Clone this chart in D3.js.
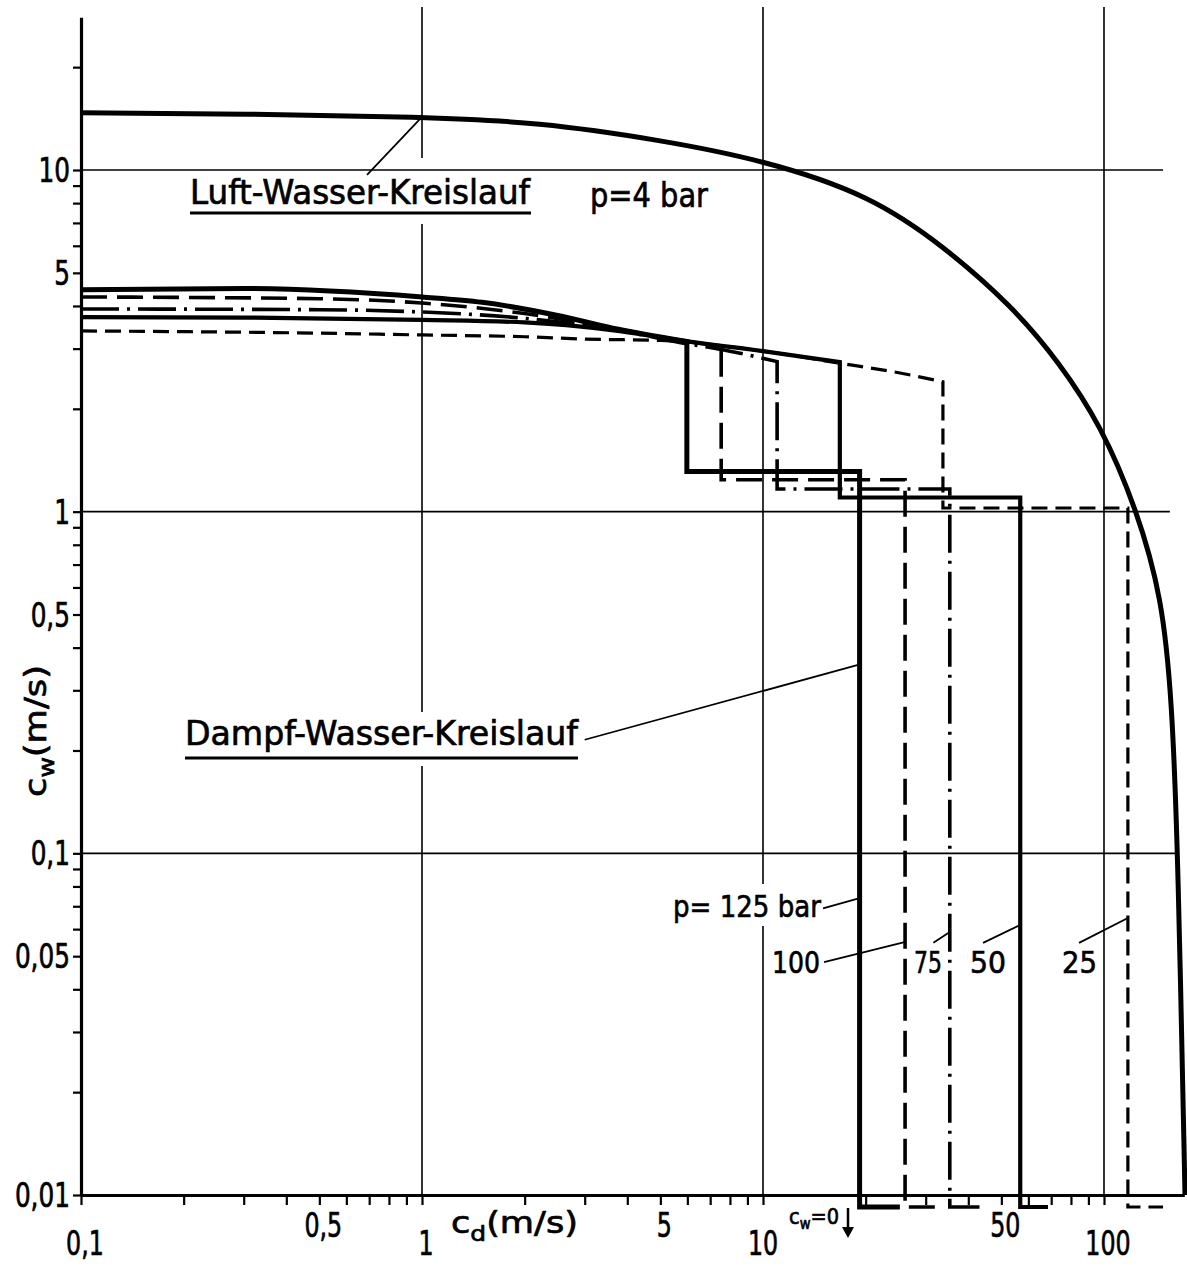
<!DOCTYPE html>
<html><head><meta charset="utf-8">
<script src="https://cdn.jsdelivr.net/npm/d3@7"></script>
<style>
body{margin:0;background:#fff}
svg{display:block}
text{font-family:"DejaVu Sans",sans-serif;fill:#000;stroke:#000;stroke-width:0.7px}
</style>
</head><body>
<svg id="c" width="1187" height="1267"></svg>
<script>
// ---------------- DATA ----------------
// Luft-Wasser-Kreislauf, p = 4 bar
const luftX = [0.1, 0.3, 1, 2.2, 5, 10, 20.6, 33.9, 54.1, 73.8, 98, 125, 148, 158.2, 164.8, 172.8];
const luftY = [14.7, 14.6, 14.3, 13.8, 12.24, 10.7, 8.45, 5.99, 3.97, 2.74, 1.79, 1.01, 0.559, 0.281, 0.1, 0.01];

// Dampf-Wasser-Kreislauf, upper branches
const pressures = [125, 100, 75, 50, 25];
const p125X = [0.1, 0.3, 1, 1.5, 2.5, 3.6, 5.98];
const p125Y = [4.46, 4.5, 4.25, 4.1, 3.75, 3.45, 3.15];
const p100X = [0.1, 0.5, 1, 2, 3.6, 6, 7.54];
const p100Y = [4.25, 4.2, 4.08, 3.8, 3.45, 3.15, 3.05];
const p75X  = [0.1, 0.5, 1, 2, 3.6, 6, 8, 11];
const p75Y  = [3.92, 3.9, 3.84, 3.68, 3.42, 3.1, 2.95, 2.75];
const p50X  = [0.1, 0.3, 1, 2, 3.6, 6, 10, 16.8];
const p50Y  = [3.71, 3.7, 3.64, 3.58, 3.4, 3.15, 2.95, 2.74];
const p25X  = [0.1, 0.5, 1, 2, 3, 5, 10, 16.8, 25, 33.7];
const p25Y  = [3.38, 3.33, 3.29, 3.25, 3.2, 3.17, 2.95, 2.72, 2.55, 2.40];
// level after the drop, c_d where c_w falls to 0, end of the c_w = 0 stub
const dropLevel = [1.31, 1.24, 1.165, 1.10, 1.025];
const endX      = [19.2, 26.1, 35.3, 56.8, 117.5];
const stubEndX  = [25.2, 32.4, 45.4, 68.5, 149];

// ticks / labels
const xTickVals = [0.1, 0.5, 1, 5, 10, 50, 100];
const xTickText = ["0,1", "0,5", "1", "5", "10", "50", "100"];
const yTickVals = [10, 5, 1, 0.5, 0.1, 0.05, 0.01];
const yTickText = ["10", "5", "1", "0,5", "0,1", "0,05", "0,01"];
const gridX = [1, 10, 100];
const gridY = [10, 1, 0.1];
const gridYEnd = [149, 156, 165];

// ---------------- CHART ----------------
const svg = d3.select("#c");
svg.append("rect").attr("width", 1187).attr("height", 1267).attr("fill", "#fff");
const x = d3.scaleLog().domain([0.1, 100]).range([81, 1104]);
const y = d3.scaleLog().domain([0.01, 10]).range([1195, 170]);
const X_END = 172, Y_TOP = 28;

// vertical grid
const grid = svg.append("g").attr("stroke", "#000").attr("stroke-width", 1.6);
gridX.forEach(v => grid.append("line")
  .attr("x1", x(v)).attr("x2", x(v)).attr("y1", y(30)).attr("y2", y(0.01)));

// white masks behind labels (interrupt vertical grid lines)
const masks = svg.append("g").attr("fill", "#fff");
masks.append("rect").attr("x", 183).attr("y", 158).attr("width", 355).attr("height", 66);
masks.append("rect").attr("x", 180).attr("y", 712).attr("width", 403).attr("height", 54);
masks.append("rect").attr("x", 668).attr("y", 884).attr("width", 158).attr("height", 42);

// horizontal grid
const gridH = svg.append("g").attr("stroke", "#000").attr("stroke-width", 1.6);
gridY.forEach((v, i) => gridH.append("line")
  .attr("x1", x(0.1)).attr("x2", x(gridYEnd[i])).attr("y1", y(v)).attr("y2", y(v)));

// Luft curve
svg.append("path")
  .datum(luftX.map((v, i) => [v, luftY[i]]))
  .attr("fill", "none").attr("stroke", "#000").attr("stroke-width", 5)
  .attr("d", d3.line().x(d => x(d[0])).y(d => y(d[1])).curve(d3.curveBasis));

// steam-water curves
const seriesX = [p125X, p100X, p75X, p50X, p25X];
const seriesY = [p125Y, p100Y, p75Y, p50Y, p25Y];
const dashes = [null, "26,10", "38,8,3,8", null, "16,8"];
const widths = [5, 3.6, 3.6, 4.2, 3.2];
const upperLine = d3.line().x(d => x(d[0])).y(d => y(d[1])).curve(d3.curveMonotoneX);
const stubOffset = 12;
pressures.forEach((p, i) => {
  const pts = seriesX[i].map((v, k) => [v, seriesY[i][k]]);
  const dropX = seriesX[i][seriesX[i].length - 1];
  let d = upperLine(pts);
  const tail = [
    [x(dropX), y(dropLevel[i])],
    [x(endX[i]), y(dropLevel[i])],
    [x(endX[i]), y(0.01) + stubOffset],
    [x(stubEndX[i]), y(0.01) + stubOffset]
  ];
  tail.forEach(q => d += "L" + q[0] + "," + q[1]);
  svg.append("path").attr("d", d).attr("fill", "none").attr("stroke", "#000")
    .attr("stroke-width", widths[i]).attr("stroke-linejoin", "miter")
    .attr("stroke-dasharray", dashes[i]);
});

// axes
const xAxisScale = x.copy().domain([0.1, X_END]).range([x(0.1), x(X_END)]);
const yAxisScale = y.copy().domain([0.01, Y_TOP]).range([y(0.01), y(Y_TOP)]);
const xMinor = x.copy().domain([0.1, 100]).ticks();
const yMinor = y.copy().domain([0.01, 20]).ticks();
const gx = svg.append("g").attr("transform", `translate(0,${y(0.01)})`)
  .call(d3.axisBottom(xAxisScale).tickValues(xMinor).tickSize(10).tickSizeOuter(0).tickFormat(""));
const gy = svg.append("g").attr("transform", `translate(${x(0.1)},0)`)
  .call(d3.axisLeft(yAxisScale).tickValues(yMinor).tickSize(8).tickSizeOuter(0).tickFormat(""));
[gx, gy].forEach(g => {
  g.select(".domain").attr("stroke", "#000").attr("stroke-width", 3.2);
  g.selectAll(".tick line").attr("stroke", "#000").attr("stroke-width", 2.2);
});

// text helper
function txt(parent, s, px, py, size, anchor, len) {
  const t = parent.append("text").attr("x", px).attr("y", py)
    .attr("font-size", size).attr("text-anchor", anchor || "start").text(s);
  if (len) t.attr("textLength", len).attr("lengthAdjust", "spacingAndGlyphs");
  return t;
}
function squeeze(t, f) {
  const w = t.node().getComputedTextLength();
  t.attr("textLength", w * f).attr("lengthAdjust", "spacingAndGlyphs");
}

// tick labels
const lab = svg.append("g");
xTickVals.forEach((v, i) => {
  const upper = Math.abs(Math.log10(v) - Math.round(Math.log10(v))) > 1e-6;
  const dx = v === 10 ? 0 : 4;
  const t = txt(lab, xTickText[i], x(v) + dx, upper ? 1237 : 1255, 33, "middle");
  squeeze(t, 0.72);
});
yTickVals.forEach((v, i) => {
  const t = txt(lab, yTickText[i], 70, y(v) + 12, 33, "end");
  squeeze(t, 0.75);
});

// axis titles
const xt = lab.append("text").attr("x", 451).attr("y", 1233).attr("font-size", 31);
xt.append("tspan").text("c");
xt.append("tspan").attr("dy", 8).attr("font-size", 22).text("d");
xt.append("tspan").attr("dy", -8).text("(m/s)");
xt.attr("textLength", 127).attr("lengthAdjust", "spacingAndGlyphs");

const yt = lab.append("text").attr("transform", "translate(46,797) rotate(-90)").attr("font-size", 31);
yt.append("tspan").text("c");
yt.append("tspan").attr("dy", 8).attr("font-size", 22).text("w");
yt.append("tspan").attr("dy", -8).text("(m/s)");
yt.attr("textLength", 132).attr("lengthAdjust", "spacingAndGlyphs");

// c_w = 0 marker
const cw = lab.append("text").attr("x", 789).attr("y", 1224).attr("font-size", 22);
cw.append("tspan").text("c");
cw.append("tspan").attr("dy", 5).attr("font-size", 15).text("w");
cw.append("tspan").attr("dy", -5).text("=0");
cw.attr("textLength", 50).attr("lengthAdjust", "spacingAndGlyphs");
lab.append("line").attr("x1", 848).attr("x2", 848).attr("y1", 1208).attr("y2", 1230)
  .attr("stroke", "#000").attr("stroke-width", 2.5);
lab.append("path").attr("d", "M842,1227L854,1227L848,1238Z").attr("fill", "#000");

// main labels
txt(lab, "Luft-Wasser-Kreislauf", 190, 204, 33, "start", 340);
lab.append("line").attr("x1", 190).attr("x2", 531).attr("y1", 213).attr("y2", 213)
  .attr("stroke", "#000").attr("stroke-width", 3);
txt(lab, "p=4 bar", 590, 207, 33, "start", 118);
txt(lab, "Dampf-Wasser-Kreislauf", 185, 745, 33, "start", 393);
lab.append("line").attr("x1", 185).attr("x2", 578).attr("y1", 758).attr("y2", 758)
  .attr("stroke", "#000").attr("stroke-width", 3);

txt(lab, "p= 125 bar", 821, 917, 31, "end", 148);
txt(lab, "100", 820, 973, 31, "end", 48);
txt(lab, "75", 914, 973, 31, "start", 28);
txt(lab, "50", 970, 973, 31, "start", 36);
txt(lab, "25", 1062, 973, 31, "start", 35);

// leader lines (data coordinates)
const leaders = svg.append("g").attr("stroke", "#000").attr("stroke-width", 1.8);
function lead(a, b) {
  leaders.append("line").attr("x1", x(a[0])).attr("y1", y(a[1])).attr("x2", x(b[0])).attr("y2", y(b[1]));
}
lead([0.69, 9.67], [1, 14.3]);
lead([3.0, 0.215], [19.0, 0.356]);
lead([15.0, 0.069], [19.2, 0.074]);
lead([15.1, 0.048], [26.0, 0.055]);
lead([31.6, 0.0547], [35.3, 0.0589]);
lead([44.2, 0.0547], [56.8, 0.0617]);
lead([84.5, 0.0547], [117.5, 0.0647]);
</script>
</body></html>
